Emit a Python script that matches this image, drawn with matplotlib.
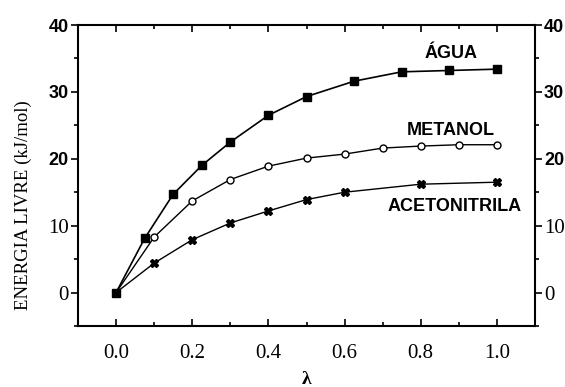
import matplotlib
matplotlib.use("Agg")
import matplotlib.pyplot as plt
from matplotlib.ticker import MultipleLocator

# Dados
agua_x = [0.0, 0.075, 0.15, 0.225, 0.3, 0.4, 0.5, 0.625, 0.75, 0.875, 1.0]
agua_y = [0.0, 8.1, 14.7, 19.0, 22.5, 26.5, 29.3, 31.6, 33.0, 33.2, 33.4]

metanol_x = [0.0, 0.1, 0.2, 0.3, 0.4, 0.5, 0.6, 0.7, 0.8, 0.9, 1.0]
metanol_y = [0.0, 8.3, 13.7, 16.9, 18.9, 20.1, 20.7, 21.6, 21.9, 22.1, 22.1]

aceto_x = [0.0, 0.1, 0.2, 0.3, 0.4, 0.5, 0.6, 0.8, 1.0]
aceto_y = [0.0, 4.4, 7.9, 10.4, 12.2, 13.9, 15.0, 16.2, 16.5]

x_ticks = [0.0, 0.2, 0.4, 0.6, 0.8, 1.0]
y_ticks = [0, 10, 20, 30, 40]

serif = "Liberation Serif"
sans = "Liberation Sans"

fig = plt.figure(figsize=(5.65, 3.87), dpi=100)
ax = fig.add_axes([78 / 565, 1 - 326 / 387, (535 - 78) / 565, (326 - 25) / 387])

ax.plot(agua_x, agua_y, color="black", lw=1.2, marker="s", ms=5.5,
        mfc="black", mec="black")
ax.plot(metanol_x, metanol_y, color="black", lw=1.0, marker="o", ms=5,
        mfc="white", mec="black", mew=1.0)
ax.plot(aceto_x, aceto_y, color="black", lw=1.0, marker="X", ms=5.5,
        mfc="black", mec="black")

ax.set_xlim(-0.1, 1.1)
ax.set_ylim(-5, 40)
ax.set_xticks(x_ticks)
ax.set_xticklabels([f"{v:.1f}" for v in x_ticks])
ax.xaxis.set_minor_locator(MultipleLocator(0.1))
ax.set_yticks(y_ticks)
ax.yaxis.set_minor_locator(MultipleLocator(5))

for s in ax.spines.values():
    s.set_linewidth(1.5)

ax.tick_params(axis="x", which="both", direction="in", top=True, bottom=True,
               width=1.2, labelsize=15, pad=13)
ax.tick_params(axis="x", which="major", length=5)
ax.tick_params(axis="x", which="minor", length=3)
ax.tick_params(axis="y", which="both", direction="out", left=True, right=True,
               labelleft=True, labelright=True, width=1.2, pad=1.5)
ax.tick_params(axis="y", which="major", length=5)
ax.tick_params(axis="y", which="minor", length=3)

for lbl in ax.get_xticklabels():
    lbl.set_fontfamily(serif)

# os rótulos 20-40 aparecem em negrito sem serifa, 0 e 10 com serifa
for val, tk in zip(y_ticks, ax.yaxis.get_major_ticks()):
    for lbl in (tk.label1, tk.label2):
        if val >= 20:
            lbl.set_fontfamily(sans)
            lbl.set_fontweight("bold")
            lbl.set_fontsize(13)
        else:
            lbl.set_fontfamily(serif)
            lbl.set_fontsize(15)

ax.set_ylabel("ENERGIA LIVRE (kJ/mol)", fontfamily=serif, fontsize=13.5)
ax.yaxis.set_label_coords(-0.10, 0.40)
ax.set_xlabel("λ", fontfamily=serif, fontsize=14, fontweight="bold", labelpad=6)

ax.text(0.88, 35.8, "ÁGUA", fontfamily=sans, fontweight="bold", fontsize=13,
        ha="center", va="center")
ax.text(0.88, 24.2, "METANOL", fontfamily=sans, fontweight="bold", fontsize=13,
        ha="center", va="center")
ax.text(0.89, 12.9, "ACETONITRILA", fontfamily=sans, fontweight="bold", fontsize=13,
        ha="center", va="center")

fig.savefig("out.png", dpi=100)
